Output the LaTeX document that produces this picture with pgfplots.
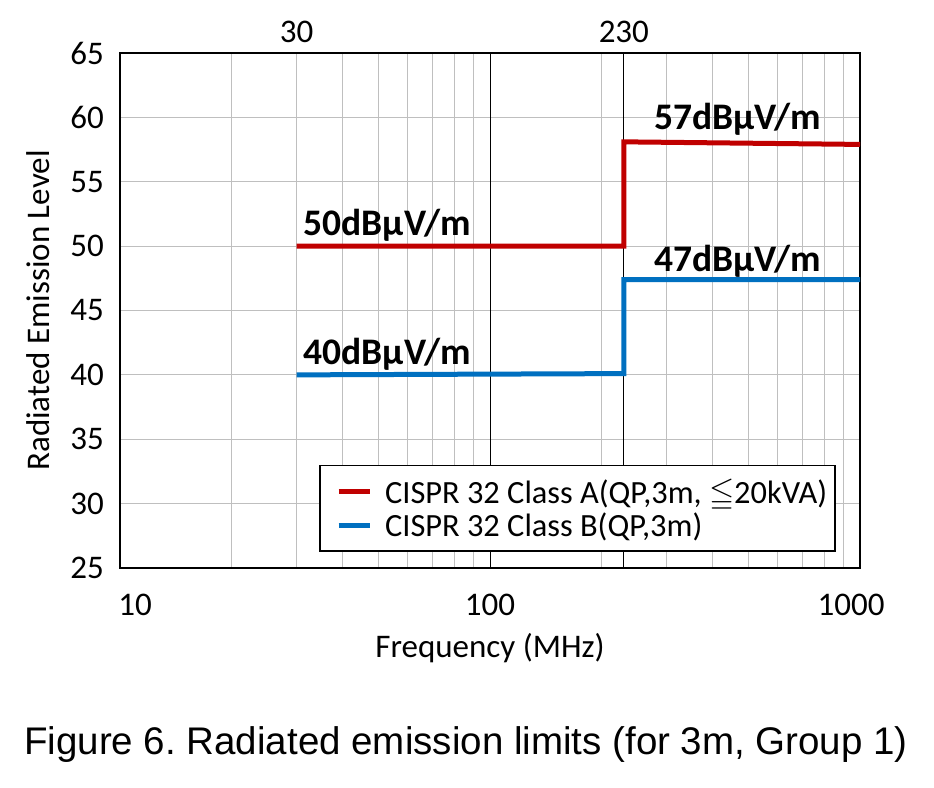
\documentclass[border=0pt]{standalone}
\usepackage{fontspec}
\setmainfont{Carlito}
\newfontfamily\capfont{Liberation Sans}
\usepackage{amssymb}
\usepackage{pgfplots}
\pgfplotsset{compat=1.18}
\definecolor{redA}{HTML}{C00000}
\definecolor{blueB}{HTML}{0070C0}
\definecolor{gridgray}{HTML}{BFBFBF}
\frenchspacing

\begin{document}
\begin{tikzpicture}
\useasboundingbox (0pt,0pt) rectangle (934pt,-787pt);
\begin{axis}[
    at={(120pt,-568pt)}, anchor=south west,
    scale only axis, width=740pt, height=515pt,
    xmode=log, xmin=10, xmax=1000, ymin=25, ymax=65,
    /pgf/number format/assume math mode=true,
    ytick={25,30,...,65},
    xtick={10,100,1000},
    xticklabels={\hspace*{30pt}10,100,1000\hspace*{18pt}},
    extra x ticks={100,230},
    extra x tick labels={,},
    extra x tick style={grid=major, major grid style={black, line width=1pt}},
    xmajorgrids, xminorgrids, ymajorgrids,
    major grid style={gridgray, line width=1pt},
    minor grid style={gridgray, line width=1pt},
    tick style={draw=none},
    axis line style={black, line width=1.6pt},
    ticklabel style={font=\fontsize{33}{36}\selectfont},
    xticklabel style={anchor=center, inner sep=0pt, yshift=-37pt},
    yticklabel style={anchor=east, inner sep=0pt, xshift=-16pt},
    xlabel={Frequency (MHz)},
    ylabel={Radiated Emission Level},
    label style={font=\fontsize{33}{36}\selectfont},
    x label style={at={(axis description cs:0.5,0)}, anchor=center, yshift=-80pt},
    y label style={at={(axis description cs:-0.1108,0.5)}, anchor=center},
    legend cell align=left,
    legend style={at={(rel axis cs:0.9676,0.031)}, anchor=south east,
        draw=black, line width=1.6pt, inner xsep=6pt, inner ysep=11pt,
        row sep=4.5pt, font=\fontsize{32.4}{35}\selectfont},
    legend image code/.code={\path (-10pt,0pt) (42pt,0pt);
        \draw[#1] (0pt,0pt) -- (31pt,0pt);},
]
\addplot[redA, line width=5pt] coordinates {(30,50) (230,50) (230,58.1) (1000,57.9)};
\addlegendentry{CISPR 32 Class A(QP,3m, $\leqq$20kVA)}
\addplot[blueB, line width=5pt] coordinates {(30,40) (230,40.1) (230,47.4) (1000,47.4)};
\addlegendentry{CISPR 32 Class B(QP,3m)}

\node[anchor=south west, inner sep=0pt, font=\bfseries\fontsize{37.5}{40}\selectfont]
    at (axis cs:30,50) [xshift=7pt, yshift=5pt] {50dBµV/m};
\node[anchor=south west, inner sep=0pt, font=\bfseries\fontsize{37.5}{40}\selectfont]
    at (axis cs:30,40) [xshift=7pt, yshift=4pt] {40dBµV/m};
\node[anchor=south west, inner sep=0pt, font=\bfseries\fontsize{37.5}{40}\selectfont]
    at (axis cs:230,58) [xshift=30pt, yshift=8pt] {57dBµV/m};
\node[anchor=south west, inner sep=0pt, font=\bfseries\fontsize{37.5}{40}\selectfont]
    at (axis cs:230,47.4) [xshift=30pt, yshift=2pt] {47dBµV/m};
\end{axis}

% top labels
\begin{axis}[
    at={(120pt,-568pt)}, anchor=south west,
    scale only axis, width=740pt, height=515pt,
    xmode=log, xmin=10, xmax=1000, ymin=25, ymax=65,
    axis x line*=top, axis y line=none,
    axis line style={draw=none},
    xtick={30,230}, xticklabels={30,230},
    tick style={draw=none},
    ticklabel style={font=\fontsize{33}{36}\selectfont},
    xticklabel style={anchor=center, inner sep=0pt, yshift=21pt},
]
\addplot[draw=none] coordinates {(30,30)};
\end{axis}

\node[font=\capfont\fontsize{38.5}{42}\selectfont] at (466pt,-745pt)
    {Figure 6. Radiated emission limits (for 3m, Group 1)};
\end{tikzpicture}
\end{document}
